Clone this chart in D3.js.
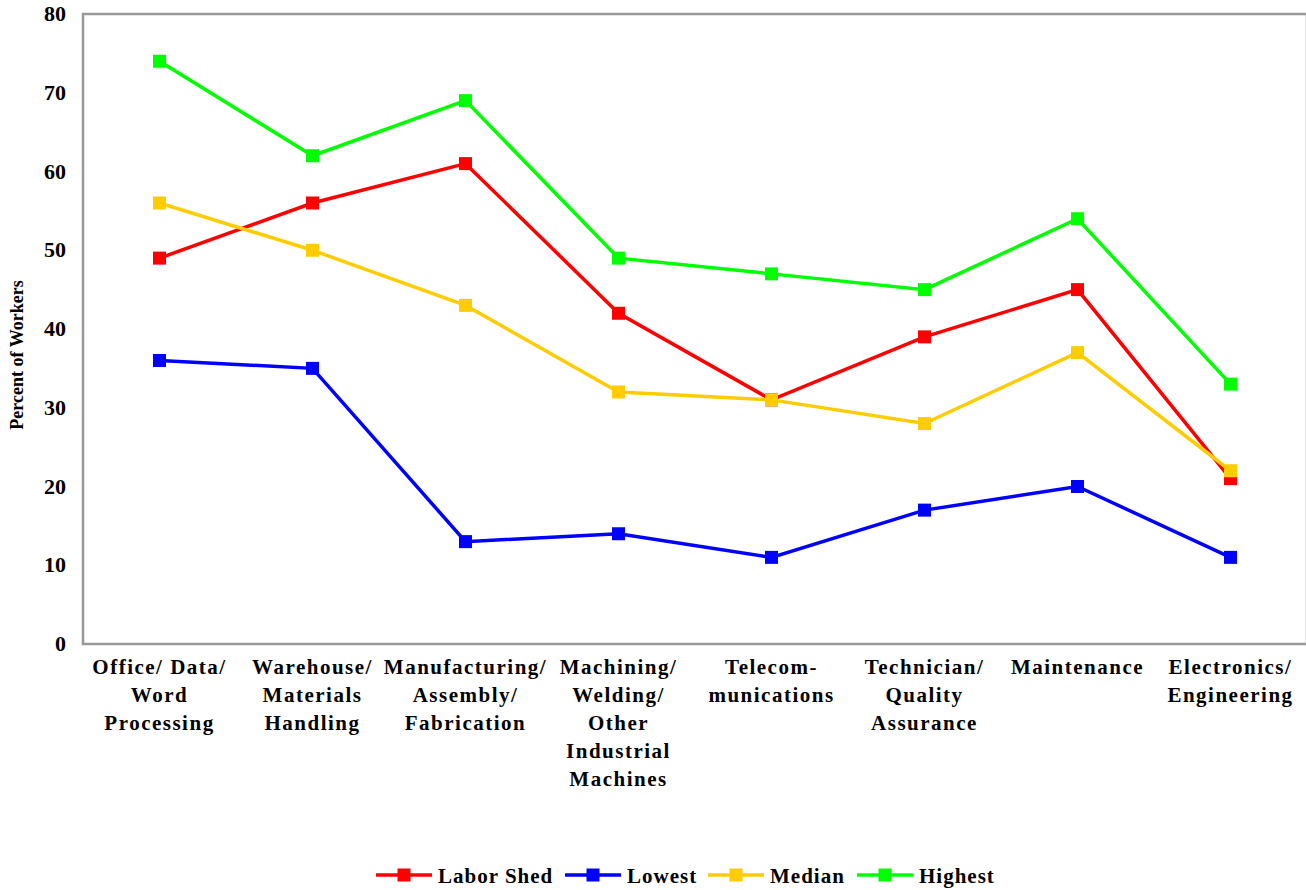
<!DOCTYPE html>
<html>
<head>
<meta charset="utf-8">
<script src="https://cdn.jsdelivr.net/npm/d3@7"></script>
<style>
body { margin: 0; background: #fff; }
text { font-family: "Liberation Serif", "Times New Roman", serif; font-weight: bold; fill: #000; }
</style>
</head>
<body>
<div id="chart"></div>
<script>
var width = 1306, height = 890;

var categories = [
  ["Office/ Data/", "Word", "Processing"],
  ["Warehouse/", "Materials", "Handling"],
  ["Manufacturing/", "Assembly/", "Fabrication"],
  ["Machining/", "Welding/", "Other", "Industrial", "Machines"],
  ["Telecom-", "munications"],
  ["Technician/", "Quality", "Assurance"],
  ["Maintenance"],
  ["Electronics/", "Engineering"]
];
var seriesNames = ["Labor Shed", "Lowest", "Median", "Highest"];
var laborShed = [49, 56, 61, 42, 31, 39, 45, 21];
var lowest = [36, 35, 13, 14, 11, 17, 20, 11];
var median = [56, 50, 43, 32, 31, 28, 37, 22];
var highest = [74, 62, 69, 49, 47, 45, 54, 33];
var yTicks = [0, 10, 20, 30, 40, 50, 60, 70, 80];
var colors = ["#ff0000", "#0000ff", "#ffcc00", "#00ff00"];

var series = [laborShed, lowest, median, highest];

var svg = d3.select("#chart").append("svg")
  .attr("width", width)
  .attr("height", height);

var plotL = 83, plotR = 1307, plotT = 14, plotB = 644;

var x = d3.scaleBand()
  .domain(d3.range(categories.length))
  .range([plotL, plotR]);

var y = d3.scaleLinear()
  .domain([0, 80])
  .range([plotB, plotT]);

// frame
svg.append("rect")
  .attr("x", plotL).attr("y", plotT)
  .attr("width", plotR - plotL).attr("height", plotB - plotT)
  .attr("fill", "none")
  .attr("stroke", "#999")
  .attr("stroke-width", 2.5);

// y tick labels
svg.selectAll("text.ytick")
  .data(yTicks)
  .enter().append("text")
  .attr("class", "ytick")
  .attr("x", 66)
  .attr("y", function(d){ return y(d) + 7; })
  .attr("text-anchor", "end")
  .style("font-size", "22px")
  .text(function(d){ return d; });

// y title
svg.append("text")
  .attr("transform", "translate(23," + 355 + ") rotate(-90)")
  .attr("text-anchor", "middle")
  .style("font-size", "18px")
  .text("Percent of Workers");

// category labels
var cat = svg.selectAll("text.cat")
  .data(categories)
  .enter().append("text")
  .attr("class", "cat")
  .attr("text-anchor", "middle")
  .style("font-size", "21px")
  .style("letter-spacing", "1.5px");

cat.selectAll("tspan")
  .data(function(d, i){ return d.map(function(s){ return {s: s, i: i}; }); })
  .enter().append("tspan")
  .attr("x", function(d){ return x(d.i) + x.bandwidth() / 2; })
  .attr("y", function(d, j){ return 674 + j * 28; })
  .text(function(d){ return d.s; });

// lines
var line = d3.line()
  .x(function(d, i){ return x(i) + x.bandwidth() / 2; })
  .y(function(d){ return y(d); });

series.forEach(function(s, k){
  svg.append("path")
    .datum(s)
    .attr("d", line)
    .attr("fill", "none")
    .attr("stroke", colors[k])
    .attr("stroke-width", 3.5);

  svg.selectAll("rect.m" + k)
    .data(s)
    .enter().append("rect")
    .attr("class", "m" + k)
    .attr("x", function(d, i){ return x(i) + x.bandwidth() / 2 - 6.5; })
    .attr("y", function(d){ return y(d) - 6.5; })
    .attr("width", 13).attr("height", 13)
    .attr("fill", colors[k]);
});

// legend
var legendX = [376, 565, 708, 857];
var legend = svg.selectAll("g.legend")
  .data(seriesNames)
  .enter().append("g")
  .attr("class", "legend")
  .attr("transform", function(d, i){ return "translate(" + legendX[i] + ",875)"; });

legend.append("line")
  .attr("x1", 0).attr("x2", 56)
  .attr("stroke", function(d, i){ return colors[i]; })
  .attr("stroke-width", 3.5);

legend.append("rect")
  .attr("x", 21.5).attr("y", -6.5)
  .attr("width", 13).attr("height", 13)
  .attr("fill", function(d, i){ return colors[i]; });

legend.append("text")
  .attr("x", 62)
  .attr("y", 8)
  .style("font-size", "21px")
  .style("letter-spacing", "1px")
  .text(function(d){ return d; });
</script>
</body>
</html>
